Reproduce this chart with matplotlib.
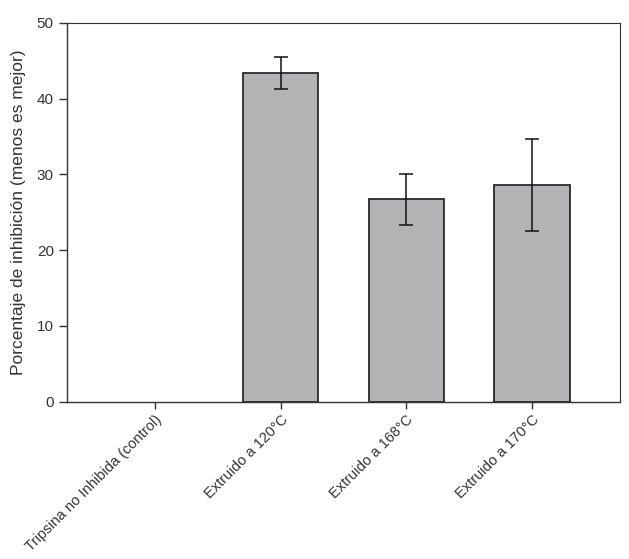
import matplotlib
matplotlib.use("Agg")
import matplotlib.pyplot as plt
import numpy as np

plt.rcParams['font.family'] = ['Liberation Sans', 'DejaVu Sans']

categories = ["Tripsina no Inhibida (control)", "Extruido a 120°C",
              "Extruido a 168°C", "Extruido a 170°C"]
values = [0.0, 43.4, 26.7, 28.6]
err_low = [0.0, 41.25, 23.3, 22.5]
err_high = [0.0, 45.5, 30.1, 34.6]

fig = plt.figure(figsize=(6.29, 5.59), dpi=100)
ax = fig.add_axes([67/629, 1-401.7/559, (620-67)/629, (401.7-22.7)/559])

x = np.arange(len(categories))
vals = np.array(values)
yerr = np.array([[v - l for v, l in zip(values, err_low)],
                 [h - v for v, h in zip(values, err_high)]])
mask = vals > 0
ax.bar(x[mask], vals[mask], width=0.6, color='#b3b3b6', edgecolor='#2a2a2a',
       linewidth=1.3, zorder=2)
ax.errorbar(x[mask], vals[mask], yerr=yerr[:, mask], fmt='none',
            ecolor='#111111', elinewidth=1.1, capsize=5, capthick=1.1, zorder=3)

ax.set_xlim(-0.7, 3.7)
ax.set_ylim(0, 50)
ax.set_yticks([0, 10, 20, 30, 40, 50])
ax.set_xticks(x)
ax.set_xticklabels(categories, rotation=45, ha='right', rotation_mode='anchor',
                   fontsize=10.5, color='#333333')
ax.tick_params(axis='y', direction='out', length=6, width=1, colors='#333333',
               labelsize=11, labelcolor='#333333')
ax.tick_params(axis='x', direction='out', pad=3, length=5, width=1, colors='#333333',
               labelcolor='#333333')
ax.set_ylabel("Porcentaje de inhibición (menos es mejor)", fontsize=12.5,
              color='#333333', labelpad=8)
for s in ax.spines.values():
    s.set_color('#333333')
    s.set_linewidth(1.0)
ax.spines['top'].set_linewidth(0.8)
ax.spines['right'].set_linewidth(0.8)

fig.savefig("out.png", dpi=100)
